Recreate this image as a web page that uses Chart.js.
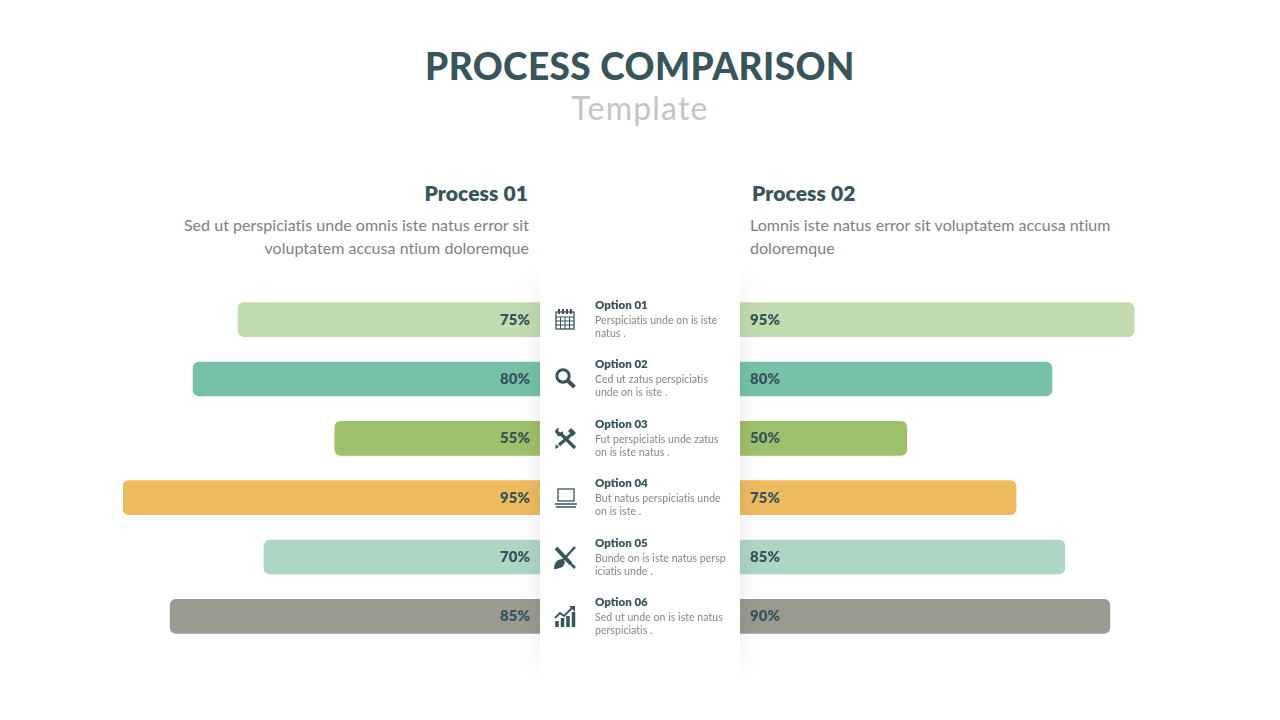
<!DOCTYPE html>
<html>
<head>
<meta charset="utf-8">
<script src="https://cdn.jsdelivr.net/npm/chart.js@4"></script>
<style>
  html, body { margin: 0; background: #fff; }
  body { width: 1280px; height: 720px; position: relative; overflow: hidden; font-family: Lato, sans-serif; }
  .t { position: absolute; white-space: nowrap; line-height: 1; }
  #title { left: 0; width: 1280px; top: 47px; text-align: center; font-size: 37px; font-weight: 900; color: #38555b; letter-spacing: 0.4px; }
  #sub { left: 0; width: 1280px; top: 92px; text-align: center; font-size: 32px; color: #c4c4c4; letter-spacing: 1.2px; }
  .head { font-size: 21px; font-weight: 800; color: #38555b; top: 182px; letter-spacing: 0.1px; }
  .desc { font-size: 16px; line-height: 23px; color: #808080; top: 213px; letter-spacing: 0.03px; }
  .box { position: absolute; top: 290px; height: 356px; width: 417px; }
  #shade { position: absolute; left: 490px; top: 240px; width: 300px; height: 460px;
    -webkit-mask-image: linear-gradient(to bottom, transparent 25px, #000 75px, #000 395px, transparent 440px);
    mask-image: linear-gradient(to bottom, transparent 25px, #000 75px, #000 395px, transparent 440px); }
  #panel { position: absolute; left: 50px; top: 0; width: 200px; height: 460px; background: #fff; box-shadow: 0 0 22px rgba(0,0,0,0.10); }
  .opt { position: absolute; left: 595px; width: 140px; }
  .opt b { display: block; font-size: 11.5px; font-weight: 800; line-height: 13px; color: #38555b; white-space: nowrap; }
  .opt span { display: block; font-size: 10.5px; line-height: 13px; margin-top: 3px; color: #858585; white-space: nowrap; letter-spacing: 0.05px; }
  .ico { position: absolute; left: 552px; width: 26px; height: 26px; }
</style>
</head>
<body>
<div class="t" id="title">PROCESS COMPARISON</div>
<div class="t" id="sub">Template</div>
<div class="t head" style="right:752px">Process 01</div>
<div class="t head" style="left:752px">Process 02</div>
<div class="t desc" style="right:751px;text-align:right">Sed ut perspiciatis unde omnis iste natus error sit<br>voluptatem accusa ntium doloremque</div>
<div class="t desc" style="left:750px">Lomnis iste natus error sit voluptatem accusa ntium<br>doloremque</div>

<div class="box" style="left:123px"><canvas id="leftChart"></canvas></div>
<div class="box" style="left:740px"><canvas id="rightChart"></canvas></div>
<div id="shade"><div id="panel"></div></div>
<div id="options"></div>

<script>
const categories = ['Option 01', 'Option 02', 'Option 03', 'Option 04', 'Option 05', 'Option 06'];
const captions = [
  ['Perspiciatis unde on is iste', 'natus .'],
  ['Ced ut zatus  perspiciatis', 'unde on is iste .'],
  ['Fut perspiciatis unde zatus', 'on is iste natus .'],
  ['But natus perspiciatis unde', 'on is iste .'],
  ['Bunde on is iste natus persp', 'iciatis  unde .'],
  ['Sed ut unde on is iste natus', 'perspiciatis .']
];
// printed percentages
const leftLabels = ['75%', '80%', '55%', '95%', '70%', '85%'];
const rightLabels = ['95%', '80%', '50%', '75%', '85%', '90%'];
// bar lengths as drawn in the picture, they don't follow the printed numbers exactly
const leftValues = [72.4, 83.2, 49.2, 100, 66.2, 88.7];
const rightValues = [94.5, 74.8, 40, 66.2, 77.9, 88.7];
const barColors = ['#c2dbb1', '#77c1a9', '#9fc06b', '#efbb5f', '#aed6c5', '#9a9a90'];

const dark = '#38555b';
const icons = [
  '<rect x="4" y="6" width="18" height="17" fill="none" stroke-width="1.3"/><path d="M4 11h18M4 15h18M4 19h18M8.500 11v12M13 11v12M17.500 11v12" stroke-width="1"/><path d="M7 3v5M11 3v5M15 3v5M19 3v5" stroke-width="2"/>',
  '<circle cx="11" cy="11" r="6.200" fill="none" stroke-width="3"/><path d="M15.500 15.500l7 6.500" stroke-width="4"/>',
  '<path d="M8 8l15 15" stroke-width="3.200"/><path d="M21 8L7 20" stroke-width="3.200"/><path d="M3 7c0-2 2-4 4-4l-1 3 3 2 2-2c1 3-2 6-5 5z" fill="' + dark + '" stroke-width="0"/><path d="M3 24l1-5 3 3z" fill="' + dark + '" stroke-width="0"/><path d="M19 3l5 5-3 3-5-5z" fill="' + dark + '" stroke-width="0"/>',
  '<rect x="6" y="5" width="16" height="12" fill="none" stroke-width="1.300"/><path d="M3 20h22" stroke-width="1.500"/><path d="M4 23h20" stroke-width="1.500"/>',
  '<path d="M4 4l15 16" stroke-width="4"/><path d="M23 3L11 16" stroke-width="2.500"/><path d="M2 25c0-6 3-10 9-10l2 3c-1 5-5 7-11 7z" fill="' + dark + '" stroke-width="0"/><path d="M19 20l4 4" stroke-width="2.500"/>',
  '<path d="M3 15l5-5 4 3 9-9" fill="none" stroke-width="1.800"/><path d="M17 3h6v6z" fill="' + dark + '" stroke-width="0"/><path d="M5 18v6M10.500 15v9M16 13v11M21.500 9v15" stroke-width="3.500"/>'
];

const optionTops = [298, 357, 417, 476, 536, 595];
const optionBox = document.getElementById('options');
categories.forEach(function(name, i) {
  optionBox.insertAdjacentHTML('beforeend',
    '<svg class="ico" viewBox="0 0 26 26" stroke="' + dark + '" style="top:' + (optionTops[i] + 8) + 'px">' + icons[i] + '</svg>' +
    '<div class="opt" style="top:' + optionTops[i] + 'px"><b>' + name + '</b><span>' + captions[i][0] + '<br>' + captions[i][1] + '</span></div>');
});

// writes the percentage at the inner end of each bar
const percentPlugin = {
  id: 'percentLabels',
  afterDatasetsDraw(chart, args, opts) {
    const ctx = chart.ctx;
    ctx.save();
    ctx.font = '800 15px Lato';
    ctx.fillStyle = dark;
    ctx.textBaseline = 'middle';
    ctx.textAlign = opts.side === 'left' ? 'right' : 'left';
    chart.getDatasetMeta(0).data.forEach(function(bar, i) {
      const x = opts.side === 'left' ? bar.base - 10 : bar.base + 10;
      ctx.fillText(opts.labels[i], x, bar.y);
    });
    ctx.restore();
  }
};

function makeChart(id, values, labels, side) {
  const isLeft = side === 'left';
  new Chart(document.getElementById(id), {
    type: 'bar',
    plugins: [percentPlugin],
    data: {
      labels: categories,
      datasets: [{
        data: values,
        backgroundColor: barColors,
        barThickness: 34,
        borderSkipped: false,
        borderRadius: isLeft
          ? { topLeft: 6, bottomLeft: 6, topRight: 0, bottomRight: 0 }
          : { topRight: 6, bottomRight: 6, topLeft: 0, bottomLeft: 0 }
      }]
    },
    options: {
      indexAxis: 'y',
      responsive: true,
      maintainAspectRatio: false,
      animation: false,
      layout: { padding: 0 },
      plugins: {
        legend: { display: false },
        tooltip: { enabled: false },
        percentLabels: { side: side, labels: labels }
      },
      scales: {
        x: { display: false, min: 0, max: 100, reverse: isLeft },
        y: { display: false }
      }
    }
  });
}

makeChart('leftChart', leftValues, leftLabels, 'left');
makeChart('rightChart', rightValues, rightLabels, 'right');
</script>
</body>
</html>
